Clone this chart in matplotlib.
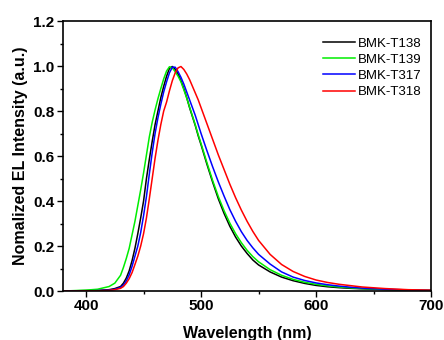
import matplotlib
matplotlib.use("Agg")
import matplotlib.pyplot as plt
from matplotlib.ticker import MultipleLocator

# === 데이터 ===
wavelength = [380, 390, 400, 410, 420, 425,
              430, 432.5, 435, 437.5, 440, 442.5, 445, 447.5, 450, 452.5, 455, 457.5, 460, 462.5,
              465, 467.5, 470, 472.5, 475, 477.5, 480, 482.5, 485, 487.5, 490, 492.5, 495, 497.5,
              500, 505, 510, 515, 520, 525, 530, 535, 540, 545, 550,
              560, 570, 580, 590, 600, 610, 620, 630, 640, 660, 680, 700]

int_t138 = [0.0, 0.001, 0.002, 0.003, 0.006, 0.011,
            0.02, 0.035, 0.058, 0.09, 0.135, 0.19, 0.255, 0.325, 0.40, 0.50, 0.585, 0.665, 0.74, 0.80,
            0.86, 0.91, 0.955, 0.99, 0.998, 0.985, 0.965, 0.935, 0.90, 0.86, 0.815, 0.775, 0.735, 0.69,
            0.65, 0.565, 0.485, 0.41, 0.345, 0.288, 0.24, 0.20, 0.167, 0.138, 0.116,
            0.085, 0.062, 0.046, 0.034, 0.025, 0.019, 0.015, 0.012, 0.01, 0.006, 0.003, 0.002]
int_t139 = [0.0, 0.002, 0.004, 0.008, 0.02, 0.035,
            0.07, 0.105, 0.145, 0.19, 0.25, 0.31, 0.38, 0.45, 0.525, 0.605, 0.685, 0.75, 0.805, 0.855,
            0.90, 0.943, 0.978, 0.997, 0.992, 0.975, 0.955, 0.93, 0.895, 0.858, 0.818, 0.778, 0.738, 0.695,
            0.655, 0.572, 0.492, 0.42, 0.357, 0.302, 0.255, 0.215, 0.181, 0.153, 0.13,
            0.095, 0.07, 0.052, 0.039, 0.03, 0.023, 0.018, 0.014, 0.011, 0.007, 0.004, 0.003]
int_t317 = [0.0, 0.001, 0.001, 0.002, 0.004, 0.008,
            0.016, 0.027, 0.045, 0.072, 0.11, 0.155, 0.20, 0.26, 0.335, 0.42, 0.52, 0.615, 0.70, 0.77,
            0.83, 0.885, 0.93, 0.97, 0.995, 0.995, 0.975, 0.95, 0.92, 0.885, 0.85, 0.815, 0.78, 0.74,
            0.70, 0.625, 0.553, 0.485, 0.422, 0.362, 0.31, 0.264, 0.225, 0.192, 0.163,
            0.12, 0.085, 0.062, 0.047, 0.036, 0.028, 0.022, 0.017, 0.013, 0.008, 0.005, 0.003]
int_t318 = [0.0, 0.0, 0.001, 0.001, 0.003, 0.006,
            0.012, 0.02, 0.035, 0.055, 0.082, 0.118, 0.155, 0.20, 0.255, 0.325, 0.41, 0.50, 0.59, 0.67,
            0.74, 0.80, 0.84, 0.89, 0.935, 0.97, 0.992, 0.998, 0.985, 0.965, 0.94, 0.91, 0.88, 0.85,
            0.815, 0.745, 0.675, 0.605, 0.54, 0.475, 0.415, 0.36, 0.31, 0.265, 0.225,
            0.163, 0.118, 0.087, 0.065, 0.049, 0.038, 0.03, 0.024, 0.018, 0.011, 0.006, 0.004]

series = [("BMK-T138", int_t138, "black"),
          ("BMK-T139", int_t139, "#00ee00"),
          ("BMK-T317", int_t317, "#0000ff"),
          ("BMK-T318", int_t318, "#ff0000")]

plt.rcParams["font.family"] = ["Liberation Sans", "DejaVu Sans"]

fig = plt.figure(figsize=(4.44, 3.40), dpi=100)
ax = fig.add_axes([0.142, 0.144, 0.829, 0.794])

for name, vals, col in series:
    ax.plot(wavelength, vals, color=col, lw=1.1, label=name)

ax.set_xlim(380, 700)
ax.set_ylim(0, 1.2)
ax.xaxis.set_major_locator(MultipleLocator(100))
ax.xaxis.set_minor_locator(MultipleLocator(50))
ax.yaxis.set_major_locator(MultipleLocator(0.2))
ax.yaxis.set_minor_locator(MultipleLocator(0.1))
ax.yaxis.set_major_formatter(plt.FormatStrFormatter("%.1f"))

ax.tick_params(which="both", direction="out", top=False, right=False, width=1.0)
ax.tick_params(which="major", length=4, labelsize=11, pad=2)
ax.tick_params(which="minor", length=2.5)
for lab in ax.get_xticklabels() + ax.get_yticklabels():
    lab.set_fontweight("bold")
for sp in ax.spines.values():
    sp.set_linewidth(1.2)

# 기준 그림에서는 x축 제목이 아래쪽에서 잘려 있지만 여기서는 전부 보이게 둔다
ax.set_xlabel("Wavelength (nm)", fontsize=11.5, fontweight="bold", labelpad=9)
ax.set_ylabel("Nomalized EL Intensity (a.u.)", fontsize=11.5, fontweight="bold", labelpad=4)

ax.legend(loc="upper right", bbox_to_anchor=(0.989, 0.959), borderaxespad=0, frameon=False,
          fontsize=9.5, handlelength=2.4, handletextpad=0.25, labelspacing=0.3)

plt.savefig("out.png", dpi=100)
